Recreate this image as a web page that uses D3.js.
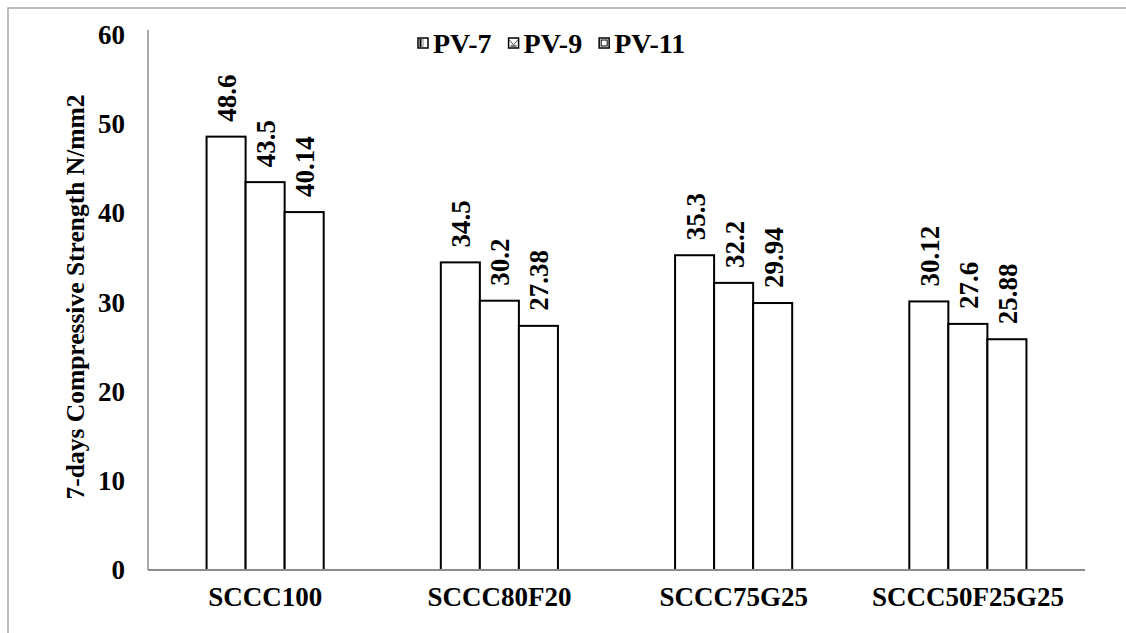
<!DOCTYPE html>
<html>
<head>
<meta charset="utf-8">
<script src="https://cdn.jsdelivr.net/npm/d3@7"></script>
<style>
  html, body { margin: 0; padding: 0; background: #fff; }
  svg { display: block; }
  text { font-family: "Liberation Serif", "Times New Roman", serif; font-weight: bold; fill: #000; }
</style>
</head>
<body>
<svg id="chart" width="1126" height="633"></svg>
<script>
// Mix designs along the x axis
const categories = ["SCCC100", "SCCC80F20", "SCCC75G25", "SCCC50F25G25"];
// Series (PV ratio) names
const seriesNames = ["PV-7", "PV-9", "PV-11"];
// 7-day compressive strength (N/mm2), one array per series
const pv7  = [48.6, 34.5, 35.3, 30.12];
const pv9  = [43.5, 30.2, 32.2, 27.6];
const pv11 = [40.14, 27.38, 29.94, 25.88];
const seriesValues = [pv7, pv9, pv11];
// Y axis ticks
const yTicks = [0, 10, 20, 30, 40, 50, 60];
const yTitle = "7-days Compressive Strength N/mm2";

const svg = d3.select("#chart");
const W = 1126, H = 633;
const plotLeft = 148, plotRight = 1085, plotTop = 35, plotBottom = 570;
const fontSize = 27;

// outer frame
svg.append("rect")
  .attr("x", 8).attr("y", 8).attr("width", W + 20).attr("height", H + 20)
  .attr("fill", "none").attr("stroke", "#a6a6a6").attr("stroke-width", 1.5);

const x0 = d3.scaleBand().domain(categories).range([plotLeft, plotRight]).padding(0);
const x1 = d3.scaleBand().domain(seriesNames)
  .range([x0.bandwidth() * 0.25, x0.bandwidth() * 0.75]).padding(0);
const y = d3.scaleLinear().domain([0, 60]).range([plotBottom, plotTop]);

// y tick labels
const yAxis = d3.axisLeft(y).tickValues(yTicks).tickSize(0).tickPadding(0);
const gy = svg.append("g").attr("transform", `translate(${plotLeft - 23},0)`).call(yAxis);
gy.select(".domain").remove();
gy.selectAll("text")
  .style("font-family", "'Liberation Serif', serif")
  .style("font-weight", "bold")
  .style("font-size", fontSize + "px")
  .attr("fill", "#000");

// y axis line
svg.append("line").attr("x1", plotLeft).attr("x2", plotLeft).attr("y1", 30).attr("y2", plotBottom)
  .attr("stroke", "#8c8c8c").attr("stroke-width", 1.5);

// bars
const groups = svg.append("g").selectAll("g")
  .data(categories)
  .join("g")
  .attr("transform", d => `translate(${x0(d)},0)`);

const rows = (c, ci) => seriesNames.map((s, si) => ({ s, v: seriesValues[si][ci] }));

groups.selectAll("rect")
  .data(rows)
  .join("rect")
  .attr("x", d => x1(d.s))
  .attr("y", d => y(d.v))
  .attr("width", x1.bandwidth())
  .attr("height", d => y(0) - y(d.v))
  .attr("fill", "#fff")
  .attr("stroke", "#000")
  .attr("stroke-width", 2);

// value labels, rotated, above each bar
groups.selectAll("text.val")
  .data(rows)
  .join("text")
  .attr("class", "val")
  .attr("transform", d => `translate(${x1(d.s) + x1.bandwidth() / 2 + 1},${y(d.v) - 15}) rotate(-90)`)
  .attr("dominant-baseline", "central")
  .style("font-size", fontSize + "px")
  .text(d => String(d.v));

// baseline
svg.append("line").attr("x1", plotLeft).attr("x2", plotRight).attr("y1", plotBottom).attr("y2", plotBottom)
  .attr("stroke", "#8c8c8c").attr("stroke-width", 2);

// category labels
const xAxis = d3.axisBottom(x0).tickSize(0).tickPadding(0);
const gx = svg.append("g").attr("transform", `translate(0,${plotBottom + 36})`).call(xAxis);
gx.select(".domain").remove();
gx.selectAll("text")
  .style("font-family", "'Liberation Serif', serif")
  .style("font-weight", "bold")
  .style("font-size", fontSize + "px")
  .attr("dy", 0)
  .attr("fill", "#000");

// y axis title
svg.append("text")
  .attr("transform", `translate(75,297) rotate(-90)`)
  .attr("text-anchor", "middle")
  .attr("dominant-baseline", "central")
  .style("font-size", "25.5px")
  .text(yTitle);

// legend
const legendSize = 28;
const legend = svg.append("g").attr("transform", "translate(418,43)");
let lx = 0;
seriesNames.forEach((name, i) => {
  const g = legend.append("g").attr("transform", `translate(${lx},0)`);
  g.append("rect").attr("x", 0).attr("y", -5).attr("width", 10).attr("height", 10)
    .attr("fill", "#fff").attr("stroke", "#000").attr("stroke-width", 1.5);
  if (i === 0) {
    g.append("rect").attr("x", 1.5).attr("y", -4).attr("width", 2).attr("height", 8).attr("fill", "#000");
    g.append("line").attr("x1", 5).attr("x2", 5).attr("y1", -4).attr("y2", 4).attr("stroke", "#666").attr("stroke-width", 0.8);
  } else if (i === 1) {
    g.append("path").attr("d", "M1,-3 L5,2 L9,-3").attr("fill", "none").attr("stroke", "#555").attr("stroke-width", 1);
    g.append("rect").attr("x", 2).attr("y", 2).attr("width", 6).attr("height", 2).attr("fill", "#777");
  } else {
    g.append("rect").attr("x", 2).attr("y", -3).attr("width", 6).attr("height", 6)
      .attr("fill", "none").attr("stroke", "#000").attr("stroke-width", 1);
  }
  const t = g.append("text").attr("x", 15).attr("y", 0)
    .attr("dominant-baseline", "central")
    .style("font-size", legendSize + "px")
    .text(name);
  lx += 15 + t.node().getComputedTextLength() + 17;
});
</script>
</body>
</html>
